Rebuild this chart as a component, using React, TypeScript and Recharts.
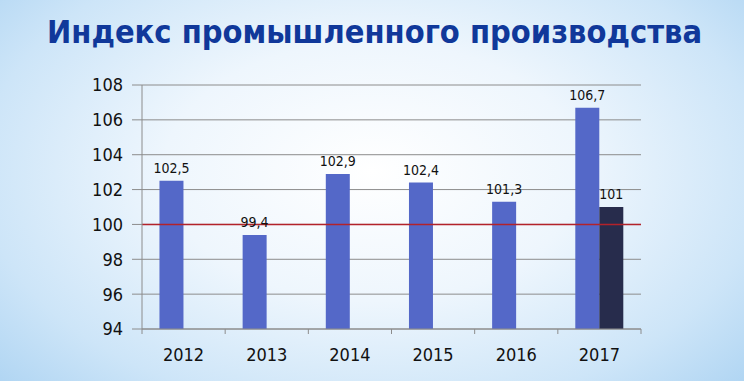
import React from "react";
import { BarChart, Bar, XAxis, YAxis, CartesianGrid, ReferenceLine, LabelList } from "recharts";

const years = ["2012", "2013", "2014", "2015", "2016", "2017"];
const indexValues = [102.5, 99.4, 102.9, 102.4, 101.3, 106.7];
const secondValues: (number | null)[] = [null, null, null, null, null, 101];
const yTicks = [94, 96, 98, 100, 102, 104, 106, 108];
const TITLE = "Индекс промышленного производства";

const data = years.map((y, i) => ({ year: y, a: indexValues[i], b: secondValues[i] }));

const W = 744;
const H = 381;
const M = { top: 85, right: 103, bottom: 12, left: 0 };
const Y_W = 142;
const BAND = (W - M.left - M.right - Y_W) / years.length;
const FONT = "'DejaVu Sans Condensed', 'DejaVu Sans', sans-serif";

const fmt = (v: any) => (v == null ? "" : String(v).replace(".", ","));

const XTick = (props: any) => {
  const { x, y, payload, index } = props;
  return (
    <g>
      <line x1={x - BAND / 2} x2={x - BAND / 2} y1={y - 8} y2={y - 3} stroke="#8c8c8c" />
      {index === years.length - 1 && (
        <line x1={x + BAND / 2} x2={x + BAND / 2} y1={y - 8} y2={y - 3} stroke="#8c8c8c" />
      )}
      <text x={x} y={y + 24} textAnchor="middle" fontSize={18} fill="#111" fontFamily={FONT}>
        {payload.value}
      </text>
    </g>
  );
};

export default function App() {
  return (
    <div
      style={{
        position: "absolute",
        left: 0,
        top: 0,
        width: W,
        height: H,
        overflow: "hidden",
        background:
          "radial-gradient(ellipse 70% 85% at 50% 45%, #ffffff 0%, #eef6fd 40%, #cde5f8 75%, #acd3f2 100%)",
      }}
    >
      <svg width={W} height={80} style={{ position: "absolute", left: 0, top: 0 }}>
        <text
          x={47}
          y={43}
          textLength={655}
          lengthAdjust="spacingAndGlyphs"
          fontFamily={FONT}
          fontWeight="bold"
          fontSize={32}
          fill="#10389a"
        >
          {TITLE}
        </text>
      </svg>
      <div style={{ position: "absolute", left: 0, top: 0 }}>
        <BarChart width={W} height={H} data={data} margin={M} barCategoryGap="21%" barGap={0}>
          <CartesianGrid vertical={false} stroke="#8c8c8c" />
          <XAxis
            dataKey="year"
            axisLine={{ stroke: "#8c8c8c" }}
            tickLine={false}
            tick={<XTick />}
            height={40}
            interval={0}
          />
          <YAxis
            domain={[94, 108]}
            ticks={yTicks}
            width={Y_W}
            axisLine={{ stroke: "#8c8c8c" }}
            tickLine={{ stroke: "#8c8c8c" }}
            tickSize={10}
            tickMargin={9}
            tick={{ fontSize: 18, fill: "#111", fontFamily: FONT }}
            allowDataOverflow
          />
          <Bar dataKey="a" fill="#5468c8" isAnimationActive={false}>
            <LabelList dataKey="a" position="top" offset={8} formatter={fmt} fontSize={14} fill="#111" fontFamily={FONT} />
          </Bar>
          <Bar dataKey="b" fill="#272c4c" isAnimationActive={false}>
            <LabelList dataKey="b" position="top" offset={8} formatter={fmt} fontSize={14} fill="#111" fontFamily={FONT} />
          </Bar>
          <ReferenceLine y={100} stroke="#b3222a" strokeWidth={1.5} />
        </BarChart>
      </div>
    </div>
  );
}
